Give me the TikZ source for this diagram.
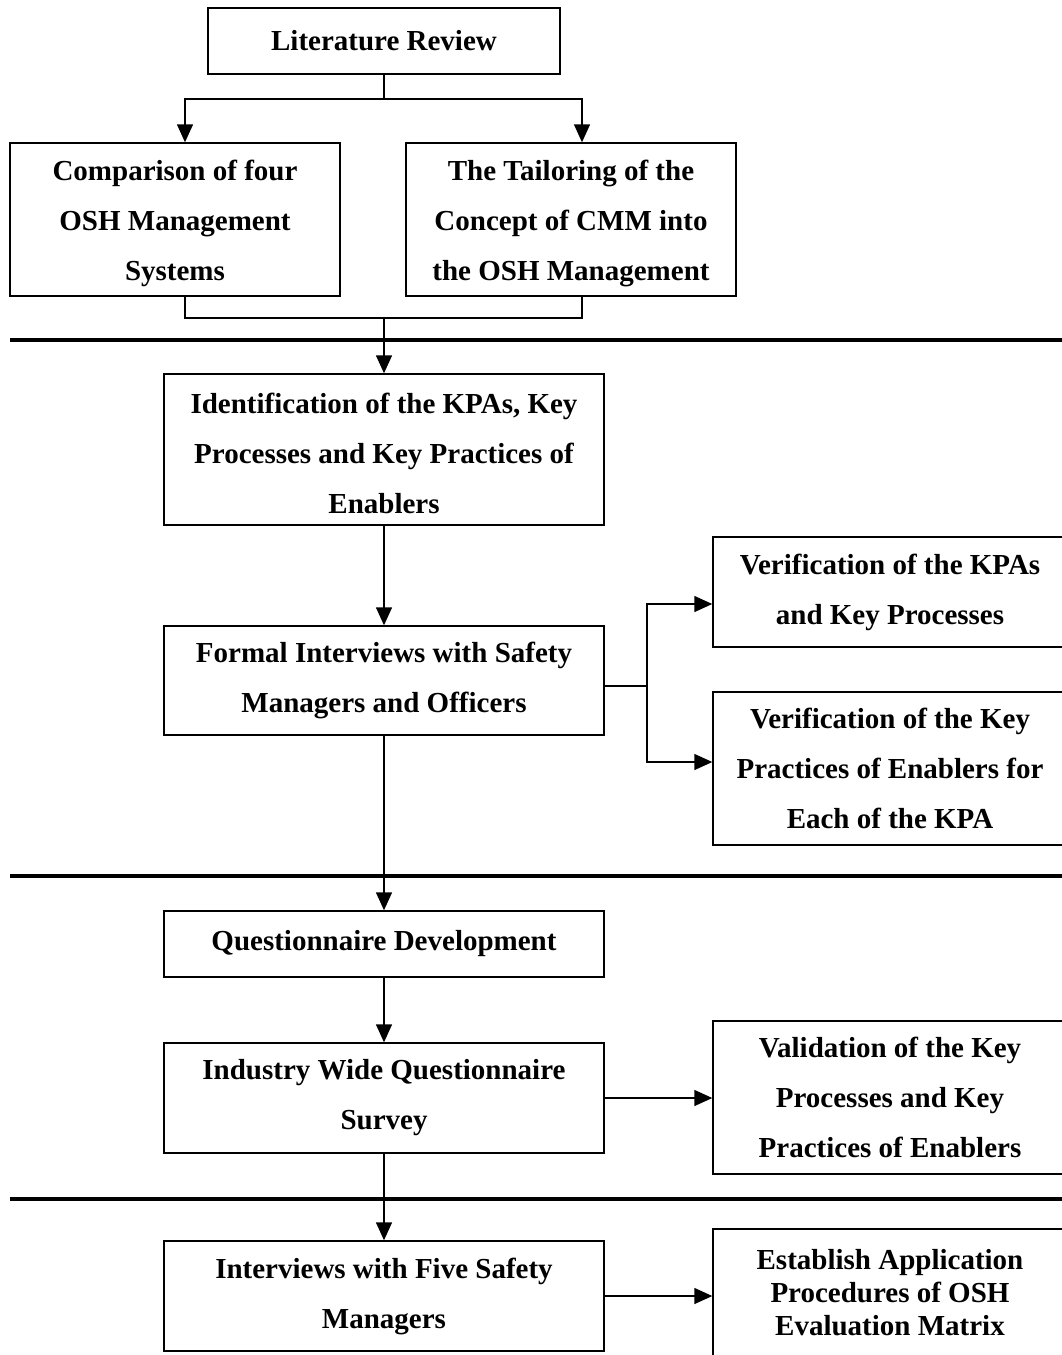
\documentclass[tikz,border=0pt]{standalone}
\usepackage{fontspec}
\setmainfont{Liberation Serif}
\usetikzlibrary{arrows.meta}

\newcommand{\lowstrut}{\rule{0pt}{29pt}}

\begin{document}
\begin{tikzpicture}[x=1pt,y=-1pt,
  box/.style={rectangle,draw=black,line width=1.4pt,inner sep=0pt,align=center,
    font=\fontsize{29}{50}\selectfont\bfseries},
  arr/.style={-{Triangle[length=18pt,width=16pt]},line width=1.4pt},
  wire/.style={line width=1.4pt},
  rule/.style={line width=4pt}]
\useasboundingbox (0,0) rectangle (1061,1355);

\node[box,minimum width=352pt,minimum height=66pt] (lit) at (384,41) {Literature Review};
\node[box,minimum width=330pt,minimum height=153pt] (comp) at (175,219.5) {\lowstrut Comparison of four\\OSH Management\\Systems};
\node[box,minimum width=330pt,minimum height=153pt] (tail) at (571,219.5) {\lowstrut The Tailoring of the\\Concept of CMM into\\the OSH Management};
\coordinate (split) at (384,99);
\draw[wire] (lit) -- (split);
\draw[arr] (split) -| ([xshift=10pt]comp.north);
\draw[arr] (split) -| ([xshift=11pt]tail.north);
\coordinate (join) at (384,318);
\draw[wire] ([xshift=10pt]comp.south) |- (join) -| ([xshift=11pt]tail.south);

\draw[rule] (10,340) -- (1070,340);

\node[box,minimum width=440pt,minimum height=151pt] (ident) at (384,449.5) {\lowstrut Identification of the KPAs, Key\\Processes and Key Practices of\\Enablers};
\draw[arr] (join) -- (ident);
\node[box,minimum width=440pt,minimum height=109pt] (formal) at (384,680.5) {Formal Interviews with Safety\\Managers and Officers};
\draw[arr] (ident) -- (formal);

\node[box,minimum width=354pt,minimum height=110pt] (verA) at (890,592) {Verification of the KPAs\\and Key Processes};
\node[box,minimum width=354pt,minimum height=153pt] (verB) at (890,768.5) {Verification of the Key\\Practices of Enablers for\\Each of the KPA};
\coordinate (fork) at (647,686);
\draw[wire] (formal.east |- fork) -- (fork);
\draw[arr] (fork) |- ([yshift=-12pt]verA.west);
\draw[arr] (fork) |- ([yshift=6.5pt]verB.west);

\draw[rule] (10,876) -- (1070,876);

\node[box,minimum width=440pt,minimum height=66pt] (quest) at (384,944) {Questionnaire Development};
\draw[arr] (formal) -- (quest);
\node[box,minimum width=440pt,minimum height=110pt] (industry) at (384,1098) {Industry Wide Questionnaire\\Survey};
\draw[arr] (quest) -- (industry);
\node[box,minimum width=354pt,minimum height=153pt] (valid) at (890,1097.5) {Validation of the Key\\Processes and Key\\Practices of Enablers};
\draw[arr] (industry.east) -- (industry.east -| valid.west);

\draw[rule] (10,1199) -- (1070,1199);

\node[box,minimum width=440pt,minimum height=110pt] (five) at (384,1296) {Interviews with Five Safety\\Managers};
\draw[arr] (industry) -- (five);
\node[box,minimum width=354pt,minimum height=128pt,font=\fontsize{29}{33}\selectfont\bfseries] (establish) at (890,1293) {Establish Application\\Procedures of OSH\\Evaluation Matrix};
\draw[arr] (five.east) -- (five.east -| establish.west);
\end{tikzpicture}
\end{document}
